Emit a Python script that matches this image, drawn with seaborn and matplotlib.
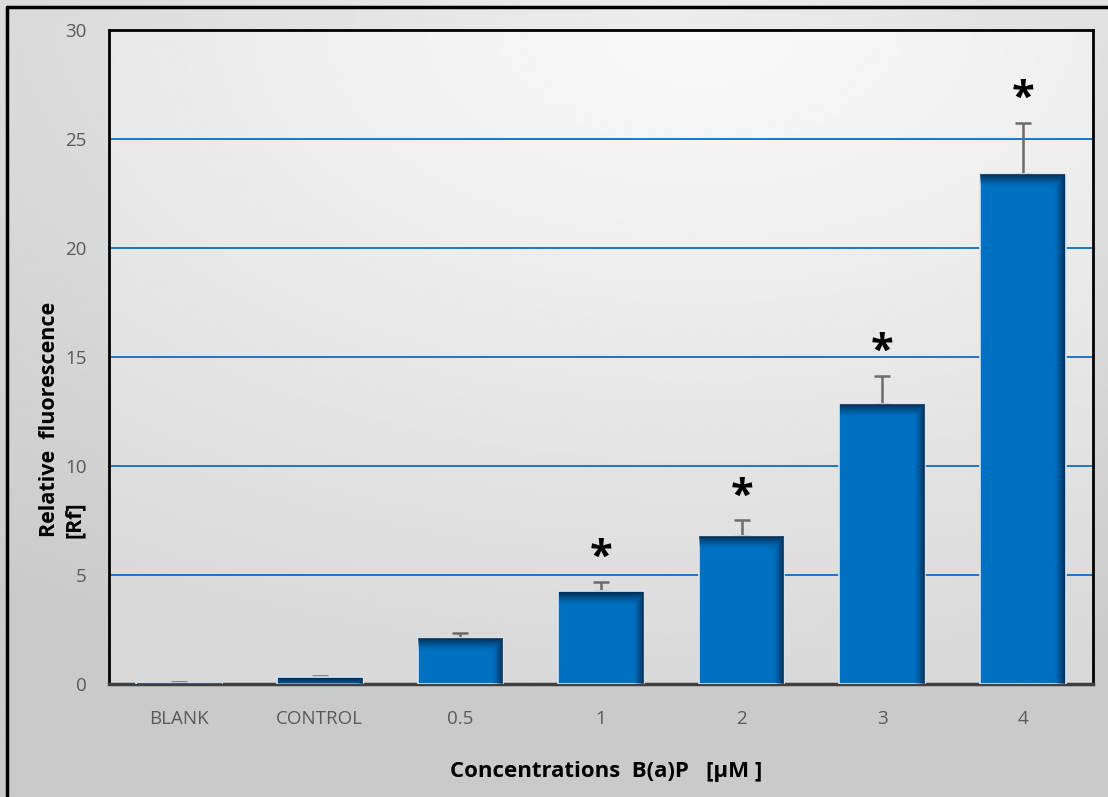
import numpy as np
import matplotlib
matplotlib.use("Agg")
import matplotlib.pyplot as plt
import seaborn as sns
from matplotlib.lines import Line2D

categories = ["BLANK", "CONTROL", "0.5", "1", "2", "3", "4"]
means = [0.05, 0.30, 2.10, 4.25, 6.80, 12.85, 23.40]
errors = [0.03, 0.05, 0.25, 0.45, 0.72, 1.30, 2.35]
significant = [False, False, False, True, True, True, True]
yticks = [0, 5, 10, 15, 20, 25, 30]

sns.set_theme(style="white")
plt.rcParams["font.family"] = ["Open Sans", "DejaVu Sans"]

W, H = 1108, 797
fig = plt.figure(figsize=(W / 100, H / 100), dpi=100)

# soft grey backdrop for the whole figure
bg = fig.add_axes([0, 0, 1, 1], zorder=-10)
gy, gx = np.mgrid[0:1:300j, 0:1:300j]
shade = 0.79 + 0.14 * np.clip(1 - np.hypot((gx - 0.6) * 0.9, (gy - 1.0) * 1.1), 0, 1)
bg.imshow(shade, cmap="gray", vmin=0, vmax=1, extent=[0, 1, 0, 1],
          aspect="auto", origin="lower", interpolation="bilinear")
bg.set_axis_off()
# frame lines on the left and top of the figure
fig.add_artist(Line2D([6.5 / W, 6.5 / W], [0, 1 - 7 / H], color="black", lw=2.5,
                      transform=fig.transFigure))
fig.add_artist(Line2D([6.5 / W, 1.0], [1 - 7 / H, 1 - 7 / H], color="black", lw=2.5,
                      transform=fig.transFigure))

ax = fig.add_axes([109 / W, (H - 684) / H, (1093 - 109) / W, 654 / H])

sns.barplot(x=categories, y=means, color="#0070C0", saturation=1, width=0.61,
            edgecolor="#d5e4f2", linewidth=1.2, ax=ax, zorder=3)

ax.set_xlim(-0.5, len(categories) - 0.5)
ax.set_ylim(0, 30)

# plot-area gradient
pg = 0.85 + 0.13 * np.clip(1 - np.hypot((gx - 0.6) * 0.85, (gy - 1.0) * 1.0), 0, 1)
ax.imshow(pg, cmap="gray", vmin=0, vmax=1,
          extent=[-0.5, len(categories) - 0.5, 0, 30],
          aspect="auto", origin="lower", interpolation="bilinear", zorder=-2)

# inner shading on each bar: darker toward the top and right edges
px_x = (1093 - 109) / len(categories)
px_y = 654 / 30
for p in ax.patches:
    x0, y0 = p.get_x(), p.get_y()
    w, h = p.get_width(), p.get_height()
    if h <= 0:
        continue
    nx, ny = 200, max(int(h * px_y * 2), 4)
    xs = np.linspace(0, w * px_x, nx)
    ys = np.linspace(0, h * px_y, ny)
    XX, YY = np.meshgrid(xs, ys)
    d_top = h * px_y - YY
    d_right = w * px_x - XX
    a_top = np.clip(1 - d_top / 13, 0, 1) ** 1.4
    a_right = np.clip(1 - d_right / 11, 0, 1) ** 1.4
    alpha = np.maximum(a_top, a_right) * 0.72
    rgba = np.zeros((ny, nx, 4))
    rgba[..., 1] = 0.08
    rgba[..., 2] = 0.18
    rgba[..., 3] = alpha
    ax.imshow(rgba, extent=[x0 + 0.004, x0 + w - 0.004, y0, y0 + h - 0.03],
              origin="lower", aspect="auto", interpolation="bilinear", zorder=3.5)
ax.set_xlim(-0.5, len(categories) - 0.5)
ax.set_ylim(0, 30)

xpos = np.arange(len(categories))
ax.errorbar(xpos, means, yerr=[np.zeros(len(means)), errors], fmt="none",
            ecolor="#6b6b6b", elinewidth=1.8, capsize=6, capthick=1.8, zorder=2.5)

for i, sig in enumerate(significant):
    if sig:
        ax.annotate("*", (xpos[i], means[i] + errors[i]), xytext=(0, 9),
                    textcoords="offset points", ha="center", va="baseline",
                    fontsize=30, fontweight="bold", color="black", zorder=5)

ax.set_yticks(yticks)
ax.yaxis.grid(True, color="#1b76c6", linewidth=1.4)
ax.xaxis.grid(False)
ax.set_axisbelow(True)
ax.tick_params(axis="y", length=0, pad=16, labelsize=13.5, labelcolor="#595959")
ax.tick_params(axis="x", length=0, pad=19, labelsize=13.5, labelcolor="#595959")
ax.set_xlabel("")
ax.set_ylabel("")

for side in ["left", "top", "right"]:
    ax.spines[side].set_color("black")
    ax.spines[side].set_linewidth(2)
ax.spines["bottom"].set_color("#404040")
ax.spines["bottom"].set_linewidth(2.5)

fig.text(606 / W, 1 - 771 / H, "Concentrations  B(a)P   [µM ]", ha="center",
         va="center", fontsize=16, fontweight="bold", color="black")
fig.text(50 / W, 1 - 537 / H, "Relative  fluorescence", rotation=90,
         ha="center", va="bottom", fontsize=15.5, fontweight="bold", color="black")
fig.text(74 / W, 1 - 538 / H, "[Rf]", rotation=90,
         ha="center", va="bottom", fontsize=15.5, fontweight="bold", color="black")

fig.savefig("out.png", dpi=100)
